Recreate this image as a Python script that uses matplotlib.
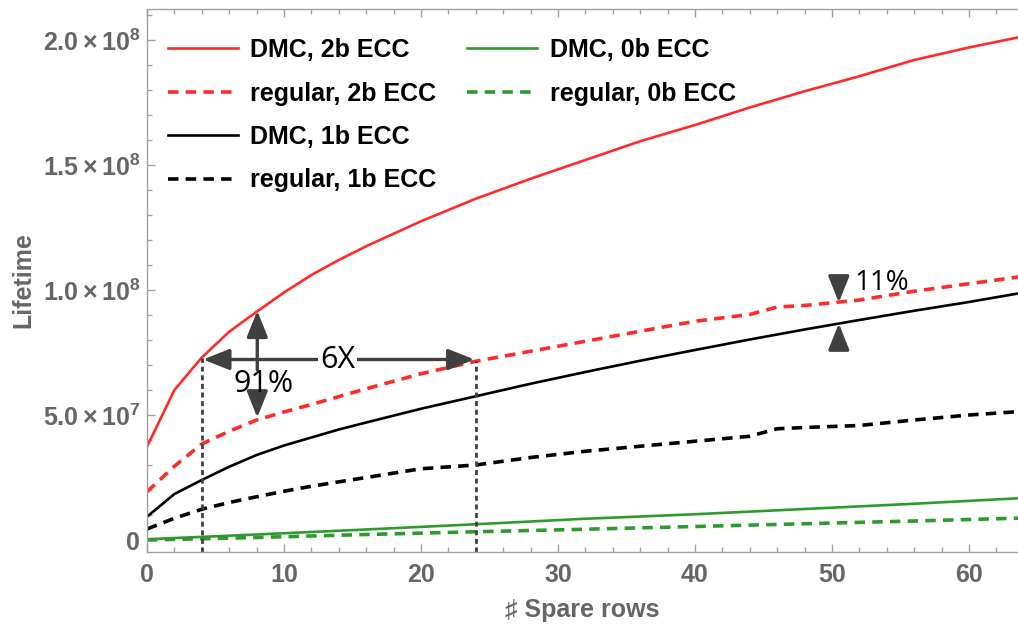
import matplotlib
matplotlib.use("Agg")
from matplotlib import pyplot as plt
from matplotlib.patches import ArrowStyle
from matplotlib.ticker import MultipleLocator, FuncFormatter

# values, lifetime in units of 1e7
x_dmc = [0, 2, 4, 6, 8, 10, 12, 14, 16, 20, 24, 28, 32, 36, 40, 44, 48, 52, 56, 60, 64]
dmc_2b = [3.73, 6.0, 7.3, 8.33, 9.13, 9.9, 10.6, 11.2, 11.75, 12.75, 13.65, 14.45, 15.2,
          15.95, 16.6, 17.3, 17.95, 18.55, 19.2, 19.7, 20.15]
dmc_1b = [0.93, 1.84, 2.4, 2.93, 3.4, 3.78, 4.1, 4.42, 4.7, 5.25, 5.75, 6.25, 6.72,
          7.17, 7.6, 8.02, 8.42, 8.8, 9.17, 9.52, 9.9]

x_reg = [0, 2, 4, 6, 8, 10, 12, 16, 20, 24, 28, 32, 36, 40, 44, 46, 48, 52, 56, 60, 64]
reg_2b = [1.93, 2.95, 3.84, 4.35, 4.8, 5.12, 5.42, 6.05, 6.65, 7.15, 7.55, 7.95, 8.35,
          8.75, 9.02, 9.32, 9.38, 9.6, 9.95, 10.25, 10.55]
reg_1b = [0.44, 0.87, 1.23, 1.5, 1.73, 1.95, 2.15, 2.5, 2.85, 3.0, 3.3, 3.55, 3.75,
          3.95, 4.15, 4.45, 4.5, 4.58, 4.8, 5.0, 5.15]

x_zero = [0, 8, 16, 24, 32, 40, 48, 56, 64]
dmc_0b = [0.03, 0.22, 0.42, 0.63, 0.85, 1.03, 1.24, 1.45, 1.68]
reg_0b = [0.0, 0.1, 0.22, 0.33, 0.43, 0.54, 0.65, 0.76, 0.88]

scale = 1e7

plt.rcParams['font.family'] = ['Liberation Sans', 'DejaVu Sans']
plt.rcParams['mathtext.fontset'] = 'custom'
plt.rcParams['mathtext.rm'] = 'Liberation Sans:bold'
plt.rcParams['mathtext.it'] = 'Liberation Sans:bold'
plt.rcParams['mathtext.bf'] = 'Liberation Sans:bold'

red = '#ff2a2a'
green = '#2e9a2e'
arrow_col = '#404040'
tick_col = '#666666'
spine_col = '#a0a0a0'

fig = plt.figure(figsize=(10.18, 6.25), dpi=100)
ax = fig.add_axes([147 / 1018, (625 - 551.5) / 625, (1018 - 147) / 1018, (551.5 - 9) / 625])

dash = (2.9, 2.0)
l1, = ax.plot(x_dmc, [v * scale for v in dmc_2b], color=red, lw=1.9)
l2, = ax.plot(x_reg, [v * scale for v in reg_2b], color=red, lw=2.6, dashes=dash)
l3, = ax.plot(x_dmc, [v * scale for v in dmc_1b], color='black', lw=1.9)
l4, = ax.plot(x_reg, [v * scale for v in reg_1b], color='black', lw=2.6, dashes=dash)
l5, = ax.plot(x_zero, [v * scale for v in dmc_0b], color=green, lw=1.9)
l6, = ax.plot(x_zero, [v * scale for v in reg_0b], color=green, lw=2.6, dashes=dash)

ymin = -4.6e6
ax.set_xlim(0, 63.58)
ax.set_ylim(ymin, 2.124e8)

# dotted guide lines
ax.plot([4, 4], [ymin, 7.27e7], color=arrow_col, lw=2.0, ls=(0, (1.8, 1.3)))
ax.plot([24, 24], [ymin, 7.15e7], color=arrow_col, lw=2.0, ls=(0, (1.8, 1.3)))

head = ArrowStyle('-|>', head_length=0.8, head_width=0.32)
head2 = ArrowStyle('<|-|>', head_length=0.8, head_width=0.32)
aprops = dict(arrowstyle=head, color=arrow_col, lw=2.4, mutation_scale=20, shrinkA=0, shrinkB=0)
aprops2 = dict(arrowstyle=head2, color=arrow_col, lw=2.4, mutation_scale=20, shrinkA=0, shrinkB=0)

ax.annotate('', xy=(4.1, 7.22e7), xytext=(23.9, 7.22e7), arrowprops=aprops2)
ax.annotate('', xy=(8.05, 9.17e7), xytext=(8.05, 6.8e7), arrowprops=aprops)
ax.annotate('', xy=(8.05, 4.9e7), xytext=(8.05, 5.7e7), arrowprops=aprops)
ax.annotate('', xy=(50.5, 9.5e7), xytext=(50.5, 1.055e8), arrowprops=aprops)
ax.annotate('', xy=(50.5, 8.66e7), xytext=(50.5, 7.68e7), arrowprops=aprops)

ann_font = ['Open Sans', 'DejaVu Sans']
ax.text(13.9, 7.22e7, '6X', fontsize=22, family=ann_font, ha='center', va='center',
        bbox=dict(facecolor='white', edgecolor='none', pad=1))
ax.text(8.5, 6.25e7, '91%', fontsize=22, family=ann_font, ha='center', va='center')
ax.text(53.6, 1.03e8, '11%', fontsize=20, family=ann_font, ha='center', va='center')

# axes styling
ax.xaxis.set_major_locator(MultipleLocator(10))
ax.xaxis.set_minor_locator(MultipleLocator(2))
ax.yaxis.set_major_locator(MultipleLocator(5e7))
ax.yaxis.set_minor_locator(MultipleLocator(1e7))


def yfmt(v, pos):
    if abs(v) < 1:
        return '$0$'
    exp = len(str(int(round(v)))) - 1
    mant = v / 10 ** exp
    return r'$%.1f\times10^{%d}$' % (mant, exp)


ax.yaxis.set_major_formatter(FuncFormatter(yfmt))
ax.tick_params(which='both', direction='in', colors=spine_col, labelcolor=tick_col,
               labelsize=18, top=True, right=False)
ax.tick_params(which='major', length=6, width=1)
ax.tick_params(which='minor', length=3.5, width=1)
ax.tick_params(axis='x', pad=8)
ax.tick_params(axis='y', pad=5)
for lab in ax.get_xticklabels():
    lab.set_fontweight('bold')
for sp in ['left', 'bottom', 'top']:
    ax.spines[sp].set_color(spine_col)
    ax.spines[sp].set_linewidth(1)
ax.spines['right'].set_visible(False)

ax.set_xlabel('\u266f Spare rows', fontsize=18, fontweight='bold', color=tick_col, labelpad=8)
ax.set_ylabel('Lifetime', fontsize=18, fontweight='bold', color=tick_col, labelpad=5)

legfont = dict(size=18, weight='bold')
leg1 = fig.legend([l1, l2, l3, l4], ['DMC, 2b ECC', 'regular, 2b ECC', 'DMC, 1b ECC', 'regular, 1b ECC'],
                  loc='upper left', bbox_to_anchor=(168 / 1018, 1 - 38 / 625), frameon=False,
                  prop=legfont, handlelength=2.8, handletextpad=0.5, labelspacing=0.78,
                  borderpad=0, borderaxespad=0)
leg2 = fig.legend([l5, l6], ['DMC, 0b ECC', 'regular, 0b ECC'],
                  loc='upper left', bbox_to_anchor=(467 / 1018, 1 - 38 / 625), frameon=False,
                  prop=legfont, handlelength=2.8, handletextpad=0.5, labelspacing=0.78,
                  borderpad=0, borderaxespad=0)

fig.savefig('out.png', dpi=100)
